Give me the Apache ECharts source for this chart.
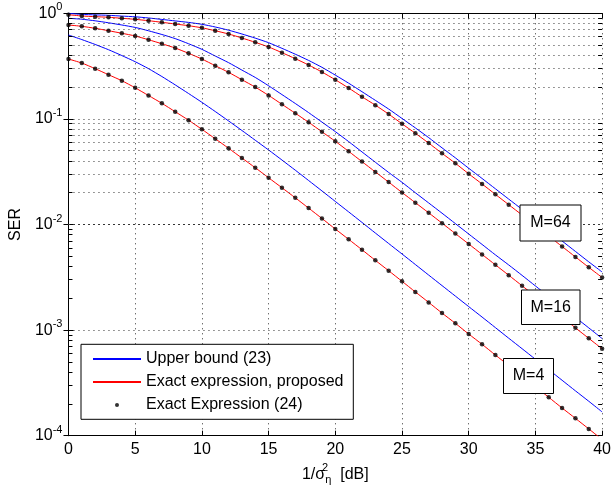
<!DOCTYPE html>
<html>
<head>
<meta charset="utf-8">
<script src="https://cdn.jsdelivr.net/npm/echarts@6/dist/echarts.min.js"></script>
<style>
  html, body { margin: 0; padding: 0; background: #fff; }
  #chart { width: 614px; height: 493px; }
</style>
</head>
<body>
<div id="chart"></div>
<script>
// x values (dB)
const snrDb = [0, 1, 2, 3, 4, 5, 6, 7, 8, 9, 10, 11, 12, 13, 14, 15, 16, 17, 18, 19, 20,
  21, 22, 23, 24, 25, 26, 27, 28, 29, 30, 31, 32, 33, 34, 35, 36, 37, 38, 39, 40];

// M=64
const upper64 = [1.0, 0.976, 0.966, 0.957, 0.941, 0.927, 0.903, 0.875, 0.847, 0.820, 0.787,
  0.742, 0.692, 0.637, 0.582, 0.527, 0.466, 0.410, 0.358, 0.308, 0.260,
  0.218, 0.181, 0.150, 0.124, 0.101, 0.0822, 0.0665, 0.0532, 0.0428, 0.0341,
  0.0273, 0.0218, 0.0174, 0.0139, 0.0110, 0.00876, 0.00698, 0.00556, 0.00443, 0.00355];
const exact64 = [0.970, 0.943, 0.929, 0.917, 0.897, 0.877, 0.851, 0.822, 0.792, 0.763, 0.729,
  0.684, 0.637, 0.584, 0.531, 0.480, 0.424, 0.372, 0.324, 0.278, 0.235,
  0.196, 0.162, 0.135, 0.111, 0.0899, 0.0731, 0.0590, 0.0472, 0.0380, 0.0302,
  0.0242, 0.0193, 0.0154, 0.0123, 0.00976, 0.00777, 0.00619, 0.00493, 0.00393, 0.00315];

// M=16
const upper16 = [0.897, 0.879, 0.849, 0.813, 0.775, 0.735, 0.683, 0.630, 0.576, 0.515, 0.456,
  0.394, 0.341, 0.290, 0.247, 0.206, 0.170, 0.140, 0.1147, 0.0933, 0.0758,
  0.0610, 0.0487, 0.0389, 0.0311, 0.0251, 0.0200, 0.0160, 0.0128, 0.0102, 0.00813,
  0.00648, 0.00516, 0.00414, 0.00330, 0.00262, 0.00208, 0.00166, 0.00132, 0.00105, 0.000832];
const exact16 = [0.775, 0.753, 0.721, 0.684, 0.647, 0.610, 0.562, 0.515, 0.469, 0.418, 0.369,
  0.319, 0.276, 0.235, 0.200, 0.167, 0.1375, 0.1132, 0.0929, 0.0755, 0.0614,
  0.0493, 0.0394, 0.0315, 0.0252, 0.0201, 0.0161, 0.0129, 0.0103, 0.0082, 0.00654,
  0.00521, 0.00415, 0.00331, 0.00263, 0.00209, 0.00167, 0.00133, 0.00105, 0.000836, 0.000665];

// M=4
const upper4 = [0.623, 0.564, 0.507, 0.452, 0.398, 0.348, 0.299, 0.252, 0.210, 0.174, 0.1436,
  0.1175, 0.0957, 0.0777, 0.0628, 0.0508, 0.0408, 0.0327, 0.0261, 0.0208, 0.01654,
  0.01317, 0.01047, 0.00831, 0.00661, 0.00526, 0.00418, 0.00332, 0.00264, 0.00210, 0.00167,
  0.00133, 0.001056, 0.000838, 0.000667, 0.000530, 0.000422, 0.000335, 0.000266, 0.000212, 0.000168];
const exact4 = [0.369, 0.338, 0.299, 0.262, 0.230, 0.197, 0.1665, 0.1405, 0.117, 0.0972, 0.0797,
  0.0649, 0.0527, 0.0426, 0.0345, 0.0277, 0.0223, 0.0179, 0.0143, 0.0114, 0.00907,
  0.00724, 0.00577, 0.00458, 0.00365, 0.00290, 0.00230, 0.00183, 0.00145, 0.00116, 0.000918,
  0.000734, 0.000581, 0.000462, 0.000367, 0.000292, 0.000231, 0.000183, 0.000146, 0.000116, 0.000092];

const legendNames = ["Upper bound (23)", "Exact expression, proposed", "Exact Expression (24)"];
const boxLabels = ["M=64", "M=16", "M=4"];

// minor decade lines 2..9 x 10^k
const minorMult = [2, 3, 4, 5, 6, 7, 8, 9];
const decades = [1e-4, 1e-3, 1e-2, 1e-1];

const FONT = "'Liberation Sans', Arial, Helvetica, sans-serif";
const GRID_DOTS = { type: [1, 4], color: "#333", width: 1 };

function pairs(ys) {
  return snrDb.map(function (x, i) { return [x, ys[i]]; });
}

let minorLines = [];
decades.forEach(function (d) {
  minorMult.forEach(function (m) {
    let v = +(m * d).toPrecision(3);
    minorLines.push({ yAxis: v, lineStyle: GRID_DOTS });
    minorLines.push([
      { coord: [0, v], lineStyle: { type: "solid", color: "#000", width: 1 } },
      { coord: [0.3, v] }
    ]);
    minorLines.push([
      { coord: [39.7, v], lineStyle: { type: "solid", color: "#000", width: 1 } },
      { coord: [40, v] }
    ]);
  });
});

function lineSeries(name, ys, color, extra) {
  let s = {
    name: name,
    type: "line",
    data: pairs(ys),
    symbol: "none",
    smooth: 0.2,
    z: 3,
    lineStyle: { color: color, width: 1 },
    itemStyle: { color: color },
    animation: false
  };
  return Object.assign(s, extra || {});
}

function dotSeries(ys) {
  return {
    name: legendNames[2],
    type: "scatter",
    data: pairs(ys),
    symbol: "circle",
    symbolSize: 4.5,
    z: 5,
    itemStyle: { color: "#000" },
    animation: false
  };
}

let chart = echarts.init(document.getElementById("chart"));

let series = [
  lineSeries(legendNames[0], upper64, "#0000ff", {
    markLine: {
      silent: true,
      symbol: "none",
      animation: false,
      label: { show: false },
      data: minorLines
    }
  }),
  lineSeries(legendNames[0], upper16, "#0000ff"),
  lineSeries(legendNames[0], upper4, "#0000ff"),
  lineSeries(legendNames[1], exact64, "#ff0000", { z: 4 }),
  lineSeries(legendNames[1], exact16, "#ff0000", { z: 4 }),
  lineSeries(legendNames[1], exact4, "#ff0000", { z: 4 }),
  dotSeries(exact64),
  dotSeries(exact16),
  dotSeries(exact4)
];

function annotation(x, y, w, h, text) {
  return {
    type: "group",
    z: 10,
    children: [
      { type: "rect", shape: { x: x, y: y, width: w, height: h },
        style: { fill: "#fff", stroke: "#000", lineWidth: 1 }, z: 10 },
      { type: "text", x: x + w / 2, y: y + h / 2, z: 11,
        style: { text: text, fill: "#000", font: "16px " + FONT, align: "center", verticalAlign: "middle" } }
    ]
  };
}

let option = {
  backgroundColor: "#fff",
  animation: false,
  grid: { left: 68.3, right: 9.3, top: 13.3, bottom: 57.3, containLabel: false },
  legend: {
    orient: "vertical",
    left: 92,
    top: 350,
    padding: 0,
    itemWidth: 48,
    itemHeight: 4,
    itemGap: 5,
    selectedMode: false,
    z: 20,
    textStyle: { fontSize: 16, lineHeight: 18, color: "#000", fontFamily: FONT },
    data: [
      { name: legendNames[0], itemStyle: { opacity: 0 } },
      { name: legendNames[1], itemStyle: { opacity: 0 } },
      { name: legendNames[2] }
    ]
  },
  xAxis: [
    {
      type: "value",
      min: 0,
      max: 40,
      interval: 5,
      name: "1/σ{s0|2}{sub|η}  [dB]",
      nameLocation: "middle",
      nameGap: 25,
      nameTextStyle: {
        fontSize: 16, color: "#000", fontFamily: FONT,
        rich: {
          s0: { fontSize: 11, width: 0.1, padding: [0, 0, 12, 0], fontFamily: FONT, color: "#000" },
          sub: { fontSize: 11, padding: [12, 0, 0, 0], fontFamily: FONT, color: "#000" }
        }
      },
      axisLine: { lineStyle: { color: "#000", width: 1 } },
      axisTick: { inside: true, length: 5, lineStyle: { color: "#000" } },
      axisLabel: { color: "#000", fontSize: 16, fontFamily: FONT, margin: 6 },
      splitLine: { show: true, lineStyle: GRID_DOTS }
    },
    {
      type: "value",
      position: "top",
      min: 0,
      max: 40,
      interval: 5,
      axisLine: { lineStyle: { color: "#000", width: 1 } },
      axisTick: { inside: true, length: 5, lineStyle: { color: "#000" } },
      axisLabel: { show: false },
      splitLine: { show: false }
    }
  ],
  yAxis: [
    {
      type: "log",
      logBase: 10,
      min: 0.0001,
      max: 1,
      name: "SER",
      nameLocation: "middle",
      nameGap: 44,
      nameTextStyle: { fontSize: 16, color: "#000", fontFamily: FONT },
      axisLine: { show: true, lineStyle: { color: "#000", width: 1 } },
      axisTick: { show: true, inside: true, length: 5, lineStyle: { color: "#000" } },
      axisLabel: {
        color: "#000",
        fontSize: 16,
        fontFamily: FONT,
        margin: 6,
        formatter: function (v) {
          let e = Math.round(Math.log10(v));
          return "10{sup|" + e + "}";
        },
        rich: {
          sup: { fontSize: 11, padding: [0, 0, 12, 0], fontFamily: FONT, color: "#000" }
        }
      },
      splitLine: { show: true, lineStyle: GRID_DOTS }
    },
    {
      type: "log",
      logBase: 10,
      min: 0.0001,
      max: 1,
      position: "right",
      axisLine: { show: true, lineStyle: { color: "#000", width: 1 } },
      axisTick: { show: true, inside: true, length: 5, lineStyle: { color: "#000" } },
      axisLabel: { show: false },
      splitLine: { show: false }
    }
  ],
  graphic: [
    {
      type: "rect",
      z: 10,
      shape: { x: 81, y: 344.3, width: 272.3, height: 75 },
      style: { fill: "#fff", stroke: "#000", lineWidth: 1 }
    },
    annotation(520, 205, 61, 36, boxLabels[0]),
    annotation(521.5, 290, 58.5, 34.5, boxLabels[1]),
    annotation(503.5, 358.5, 50, 35, boxLabels[2])
  ],
  series: series
};

chart.setOption(option);
</script>
</body>
</html>
